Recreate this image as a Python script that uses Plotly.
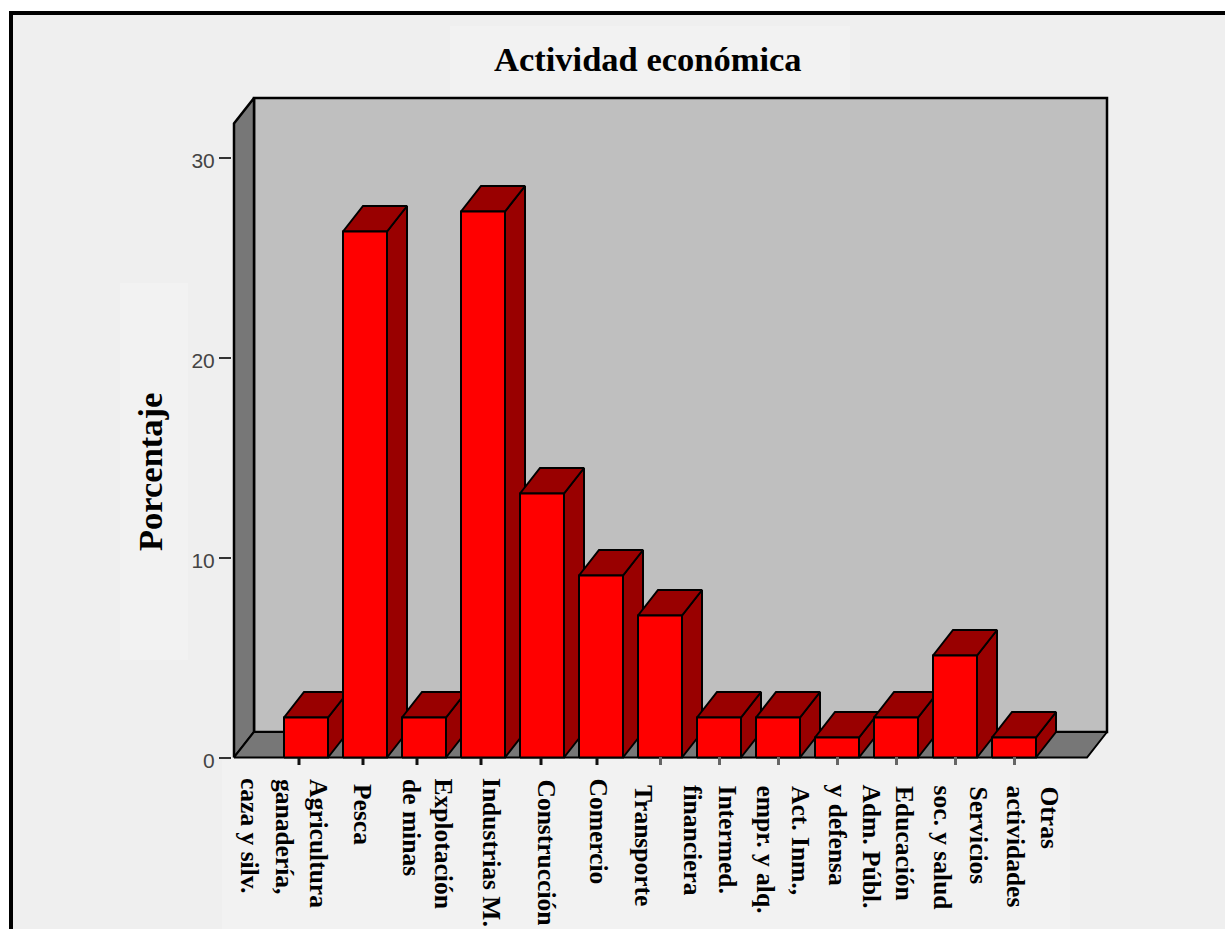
import plotly.graph_objects as go

# ---- data ----
categories = ["Agricultura, ganadería, caza y silv.", "Pesca", "Explotación de minas", "Industrias M.",
              "Construcción", "Comercio", "Transporte", "Intermed. financiera", "Act. Inm., empr. y alq.",
              "Adm. Públ. y defensa", "Educación", "Servicios soc. y salud", "Otras actividades"]
values = [2.0, 26.3, 2.0, 27.3, 13.2, 9.1, 7.1, 2.0, 2.0, 1.0, 2.0, 5.1, 1.0]
y_ticks = [0, 10, 20, 30]
title_text = "Actividad económica"
y_title = "Porcentaje"

# each tick label line: (text, centre px offset from its bar centre, gap below axis in px)
label_lines = [
    [("Agricultura", 13, 20), ("ganadería,", -21, 20), ("caza y silv.", -56, 19)],
    [("Pesca", -2, 25)],
    [("Explotación", 19, 20), ("de minas", -12, 20)],
    [("Industrias M.", 9, 19)],
    [("Construcción", 4, 21)],
    [("Comercio", -3, 20)],
    [("Transporte", -16, 26)],
    [("Intermed.", 8, 27), ("financiera", -26, 26)],
    [("Act. Inm.,", 23, 27), ("empr. y alq.", -13, 27)],
    [("Adm. Públ.", 34, 26), ("y defensa", 0, 26)],
    [("Educación", 9, 27), ("soc. y salud", 46, 27)],
    [("Servicios", 23, 28)],
    [("Otras", 35, 28), ("actividades", 1, 27)],
]
# first six x tick marks sit off-centre in the picture (px from bar centre)
dark_tick_shift = [-7, -2, -7, -2, -1, -4]

# ---- geometry ----
W, H = 1225, 929
L, R, T, B = 232, 1110, 94, 765    # plot box in px (holds walls, floor and tick marks)
LEFT = 234                         # px of front left floor corner
ZERO = 757.5                       # px of value 0
FRONT_R = 1087                     # px of front right floor corner
FRONT_T = 123.5                    # px of front top of left wall
PX_X, PX_Y = 59.0, 20.0            # px per category, px per percent
X0 = 306.0                         # px of first bar centre
BAR = 44 / PX_X
DX, DY = 20 / PX_X, 25.5 / PX_Y
xmin, xmax = (L - X0) / PX_X, (R - X0) / PX_X
xleft = (LEFT - X0) / PX_X
xfront = (FRONT_R - X0) / PX_X
ymin, ymax = (ZERO - B) / PX_Y, (ZERO - T) / PX_Y
yfront = (ZERO - FRONT_T) / PX_Y

RED, DARK, WALL, SIDE = "#ff0000", "#990000", "#bfbfbf", "#777777"
BG, PATCH = "#efefef", "#f2f2f2"


def poly(xs, ys, fill, lw=2):
    return go.Scatter(x=xs + xs[:1], y=ys + ys[:1], mode="lines", fill="toself", fillcolor=fill,
                      line=dict(color="#000000", width=lw), cliponaxis=False,
                      showlegend=False, hoverinfo="skip")


fig = go.Figure()
# back wall, left wall, floor
fig.add_trace(poly([xleft + DX, xfront + DX, xfront + DX, xleft + DX], [DY, DY, yfront + DY, yfront + DY], WALL, 2.5))
fig.add_trace(poly([xleft, xleft + DX, xleft + DX, xleft], [0, DY, yfront + DY, yfront], SIDE, 2.5))
fig.add_trace(poly([xleft, xfront, xfront + DX, xleft + DX], [0, 0, DY, DY], SIDE, 2))

# bars, left to right
for i, v in enumerate(values):
    a, b = i - BAR / 2, i + BAR / 2
    fig.add_trace(poly([b, b + DX, b + DX, b], [0, DY, v + DY, v], DARK))
    fig.add_trace(poly([a, b, b + DX, a + DX], [v, v, v + DY, v + DY], DARK))
    fig.add_trace(poly([a, b, b, a], [0, 0, v, v], RED))

# off-centre dark tick marks
tx, ty = [], []
for i, s in enumerate(dark_tick_shift):
    tx += [i + s / PX_X, i + s / PX_X, None]
    ty += [0, ymin, None]
fig.add_trace(go.Scatter(x=tx, y=ty, mode="lines", line=dict(color="#111111", width=3),
                         cliponaxis=False, showlegend=False, hoverinfo="skip"))

ann = []
for i, lines in enumerate(label_lines):
    for text, dx, gap in lines:
        ann.append(dict(x=i, y=0, xref="x", yref="y", text=f"<b>{text}</b>", showarrow=False,
                        textangle=90, xanchor="center", yanchor="top", xshift=dx, yshift=-gap,
                        borderpad=0, font=dict(family="Liberation Serif", size=25.5, color="#000000")))


def px(p):
    return (p - L) / (R - L)


def py(p):
    return (B - p) / (B - T)


ann.append(dict(x=px(648), y=py(59), xref="paper", yref="paper", text=f"<b>{title_text}</b>", showarrow=False,
                xanchor="center", yanchor="middle", font=dict(family="Liberation Serif", size=34.5, color="#000000")))
ann.append(dict(x=px(150), y=py(472), xref="paper", yref="paper", text=f"<b>{y_title}</b>", showarrow=False,
                textangle=-90, xanchor="center", yanchor="middle",
                font=dict(family="Liberation Serif", size=34.5, color="#000000")))


def rect(x0, y0, x1, y1, color):
    return dict(type="rect", xref="paper", yref="paper", x0=px(x0), x1=px(x1), y0=py(y0), y1=py(y1),
                fillcolor=color, line=dict(width=0), layer="below")


shapes = [
    rect(13, 15, W, H, BG),
    rect(9, 11, W, 15, "#000000"),
    rect(9, 11, 13, H, "#000000"),
    rect(450, 26, 850, 95, PATCH),
    rect(120, 283, 188, 660, PATCH),
    rect(222, 760, 1070, H, PATCH),
]

fig.update_layout(
    width=W, height=H, margin=dict(l=L, r=W - R, t=T, b=H - B),
    paper_bgcolor="#ffffff", plot_bgcolor="rgba(0,0,0,0)", showlegend=False,
    shapes=shapes, annotations=ann,
    xaxis=dict(range=[xmin, xmax], showgrid=False, zeroline=False, showline=False,
               tickmode="array", tickvals=list(range(6, len(values))), showticklabels=False,
               ticks="inside", ticklen=8, tickwidth=3, tickcolor="#666666"),
    yaxis=dict(range=[ymin, ymax], showgrid=False, zeroline=False, showline=False,
               tickmode="array", tickvals=y_ticks, ticks="outside", ticklen=12, tickwidth=2,
               ticklabelshift=3,
               tickcolor="#333333", tickfont=dict(family="Liberation Sans", size=21, color="#444444")),
)
fig.write_html("out.html", config={"displayModeBar": False},
               post_script="document.body.style.margin='0';document.documentElement.style.overflow='hidden';")
